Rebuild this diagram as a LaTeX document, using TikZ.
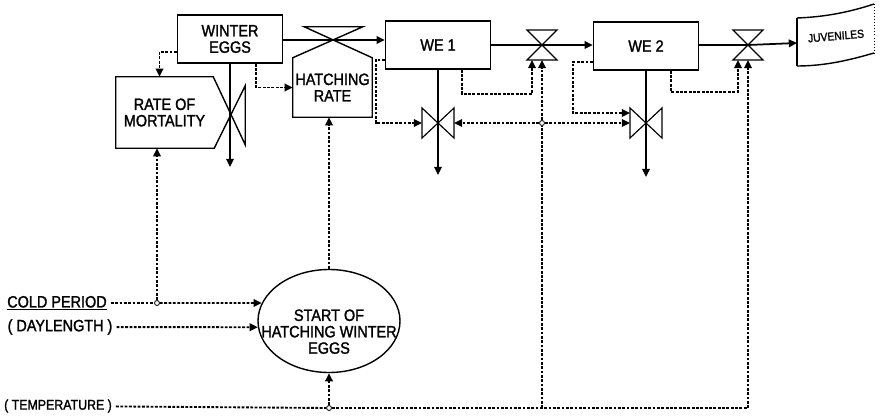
\documentclass[tikz,border=0pt]{standalone}
\usepackage{fontspec}
\setmainfont[FakeStretch=0.88, FakeBold=1.5]{Liberation Sans}
\usetikzlibrary{positioning}
\usetikzlibrary{arrows.meta}
\usetikzlibrary{shapes.geometric, calc}

\tikzset{
  lbl/.style={font=\fontsize{14}{14}\selectfont, align=center},
  stock/.style={draw, line width=1.2pt, minimum width=31.5mm, minimum height=14.4mm, lbl},
  flow/.style={line width=1.5pt},
  flowarr/.style={flow, -{Triangle[length=7pt,width=6.5pt]}},
  info/.style={line width=1.6pt, dash pattern=on 2.4pt off 1.3pt},
  infoarr/.style={info, -{Triangle[length=7pt,width=6.5pt]}},
  junc/.style={circle, draw, fill=white, inner sep=0pt, minimum size=1.5mm, line width=0.7pt},
  valveh/.pic={\draw[line width=1pt] (-15,-15) -- (15,-15) -- (-15,15) -- (15,15) -- cycle;},
  valvev/.pic={\draw[line width=1pt] (-16,-15) -- (-16,15) -- (16,-15) -- (16,15) -- cycle;}
}

\begin{document}
\begin{tikzpicture}[x=0.3mm, y=-0.3mm]
			\useasboundingbox[fill=white] (0,0) rectangle (881,416);
			% stocks and auxiliaries
			\node[stock] (eggs) at (230,39) {WINTER\\EGGS};
			\node[stock] (we1) at (438,45) {WE 1};
			\node[stock] (we2) at (646,46) {WE 2};
			\node[lbl, minimum width=29.1mm, minimum height=21.3mm, inner sep=0pt] (mort) at (164.5,112.5) {RATE OF\\MORTALITY};
			\node[lbl, minimum width=23.7mm, minimum height=17.7mm, inner sep=0pt] (hatch) at (332.5,87.5) {HATCHING\\RATE};
			\node[ellipse, draw, line width=1.2pt, minimum width=42.6mm, minimum height=30.9mm, inner sep=0pt,
				label={[lbl, yshift=-3.2mm]center:{START OF\\HATCHING WINTER\\EGGS}}] (start) at (329,321) {};
			\node[font=\fontsize{10}{10}\selectfont, rotate=5] (juv) at (836,36) {JUVENILES};

			% outlines
			\draw[line width=1.2pt] (mort.south west) -- (mort.north west) -- (mort.north east) -- ($(mort.north east)+(32,68)$)
				-- ($(mort.north east)+(32,9)$) -- ($(mort.south east)+(1,0)$) -- cycle;
			\draw[line width=1.2pt] (hatch.south west) -- (hatch.north west) -- ($(hatch.north west)+(70,-31)$)
				-- ($(hatch.north east)+(-68,-31)$) -- (hatch.north east) -- (hatch.south east) -- cycle;
			\draw[line width=1.2pt] (797,18) .. controls (825,17) and (850,12) .. (874,4);
			\draw[line width=1.2pt] (797,66) .. controls (825,66) and (850,60) .. (874,53);
			\draw[line width=1.2pt] (797,18) -- (797,66);
			\draw[line width=0.6pt, dotted] (874,4) -- (874,53);

			% valves
			\coordinate (vh) at (333,40);
			\coordinate (v1) at (542,45);
			\coordinate (v2) at (748,45);
			\coordinate (o1) at (438,123);
			\coordinate (o2) at (646,123);
			\pic at (v1) {valveh};
			\pic at (v2) {valveh};
			\pic at (o1) {valvev};
			\pic at (o2) {valvev};

			% material flows
			\coordinate (juvin) at (797,43);
			\coordinate (sink0) at (230,167);
			\coordinate (sink1) at (438,175);
			\coordinate (sink2) at (646,177);
			\draw[flowarr] (eggs.east |- vh) -- (vh) -- (we1.west |- vh);
			\draw[flowarr] (we1.east |- v1) -- (v1) -- (we2.west |- v1);
			\draw[flowarr] (we2.east |- v2) -- (v2) -- (juvin);
			\draw[flowarr] (eggs.south) -- (sink0);
			\draw[flowarr] (we1.south) -- (sink1);
			\draw[flowarr] (we2.south) -- (sink2);

			% drivers
			\node[lbl] (cold) at (57,303) {\underline{COLD PERIOD}};
			\node[lbl] (day) at (60,327) {( DAYLENGTH )};
			\node[lbl, font=\fontsize{12}{12}\selectfont] (temp) at (58,406) {( TEMPERATURE )};
			\node[junc] (jc) at (157,303) {};
			\node[junc] (jt) at (329,408) {};
			\node[junc] (jo) at (542,123) {};
			\coordinate (jw) at (542,408);
			\coordinate (tc) at (748,408);

			% information links
			\draw[info] (cold) -- (jc);
			\draw[infoarr] (jc) -- (start.165);
			\draw[infoarr] (jc) -- (jc |- mort.south);
			\draw[infoarr] (day) -- (start.185);
			\draw[info] (temp) -- (jt);
			\draw[info] (jt) -- (jw) -- (tc);
			\draw[infoarr] (jt) -- (start.south);
			\draw[infoarr] (start.north) -- (start.north |- hatch.south);
			\draw[infoarr] ($(eggs.west)+(0,13)$) -| ($(mort.north)+(-5,0)$);
			\draw[infoarr] ($(eggs.south east)+(-27,0)$) |- (hatch.west);
			\draw[info] (jw) -- (jo);
			\draw[infoarr] (jo) -- ($(v1)+(0,15)$);
			\draw[infoarr] (tc) -- ($(v2)+(0,15)$);
			\draw[infoarr] (jo) -- ($(o1)+(16,0)$);
			\draw[infoarr] (jo) -- ($(o2)+(-16,0)$);
			\draw[infoarr] ($(we1.west)+(0,15)$) -- ++(-9,0) |- ($(o1)+(-16,0)$);
			\draw[infoarr] ($(we2.west)+(0,16)$) -- ++(-20,0) |- ($(o2)+(-16,-10)$);
			\draw[infoarr] ($(we1.south west)+(77,0)$) -- ++(0,24) -| ($(v1)+(-10,15)$);
			\draw[infoarr] ($(we2.south west)+(78,0)$) -- ++(0,21) -| ($(v2)+(-10,15)$);
		\end{tikzpicture}
\end{document}
